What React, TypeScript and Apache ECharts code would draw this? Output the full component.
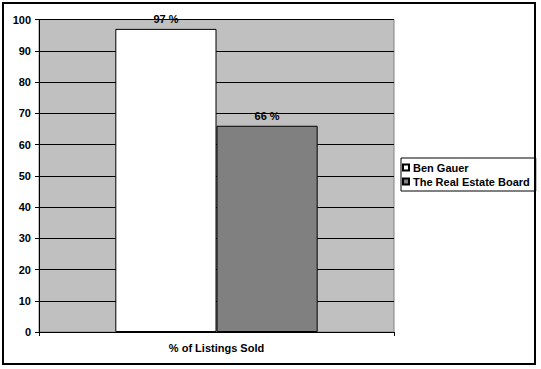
import React, { useEffect, useRef } from "react";
import * as echarts from "echarts";

const categories = ["% of Listings Sold"];
const seriesNames = ["Ben Gauer", "The Real Estate Board"];
const benGauer = [97];
const realEstateBoard = [66];
const yTicks = { min: 0, max: 100, interval: 10 };

const FONT = "'Liberation Sans', Arial, sans-serif";

export default function App() {
  const ref = useRef<HTMLDivElement>(null);
  useEffect(() => {
    if (!ref.current) return;
    const chart = echarts.init(ref.current, null, { renderer: "svg" });
    const labelCfg = {
      show: true,
      position: "top" as const,
      distance: 4,
      formatter: "{c} %",
      color: "#000",
      fontFamily: FONT,
      fontWeight: "bold" as const,
      fontSize: 11,
    };
    chart.setOption({
      animation: false,
      backgroundColor: "#ffffff",
      textStyle: { fontFamily: FONT },
      graphic: [
        {
          type: "rect",
          shape: { x: 3, y: 3, width: 532, height: 361 },
          style: { fill: "none", stroke: "#000", lineWidth: 2 },
          z: 100,
        },
      ],
      grid: {
        left: 39,
        top: 19.5,
        right: 147,
        bottom: 37,
        show: true,
        backgroundColor: "#C0C0C0",
        borderColor: "#808080",
        borderWidth: 1,
      },
      legend: {
        orient: "vertical",
        left: 401,
        top: 158,
        padding: [4, 6, 4, 1],
        itemGap: 3,
        itemWidth: 6,
        itemHeight: 6,
        icon: "rect",
        borderColor: "#000",
        borderWidth: 1,
        textStyle: {
          color: "#000",
          fontFamily: FONT,
          fontWeight: "bold",
          fontSize: 11,
          padding: [0, 0, 0, -1],
        },
        data: seriesNames,
      },
      xAxis: {
        type: "category",
        data: categories,
        boundaryGap: true,
        axisLine: { show: true, lineStyle: { color: "#000", width: 1 } },
        axisTick: { show: true, length: 4, lineStyle: { color: "#000" } },
        axisLabel: {
          color: "#000",
          fontFamily: FONT,
          fontWeight: "bold",
          fontSize: 11,
          margin: 10,
        },
        splitLine: { show: false },
        z: 10,
      },
      yAxis: {
        type: "value",
        min: yTicks.min,
        max: yTicks.max,
        interval: yTicks.interval,
        axisLine: { show: true, lineStyle: { color: "#000", width: 1 } },
        axisTick: { show: true, length: 4, lineStyle: { color: "#000" } },
        axisLabel: {
          color: "#000",
          fontFamily: FONT,
          fontWeight: "bold",
          fontSize: 11,
          margin: 8,
        },
        splitLine: { show: true, lineStyle: { color: "#000", width: 1 } },
      },
      series: [
        {
          name: seriesNames[0],
          type: "bar",
          data: benGauer,
          barGap: "0%",
          barCategoryGap: "43%",
          itemStyle: { color: "#ffffff", borderColor: "#000", borderWidth: 1 },
          label: labelCfg,
        },
        {
          name: seriesNames[1],
          type: "bar",
          data: realEstateBoard,
          barGap: "0%",
          barCategoryGap: "43%",
          itemStyle: { color: "#808080", borderColor: "#000", borderWidth: 1 },
          label: labelCfg,
        },
      ],
    });
    return () => chart.dispose();
  }, []);
  return (
    <div
      ref={ref}
      style={{ position: "fixed", left: 0, top: 0, width: 541, height: 369 }}
    />
  );
}
